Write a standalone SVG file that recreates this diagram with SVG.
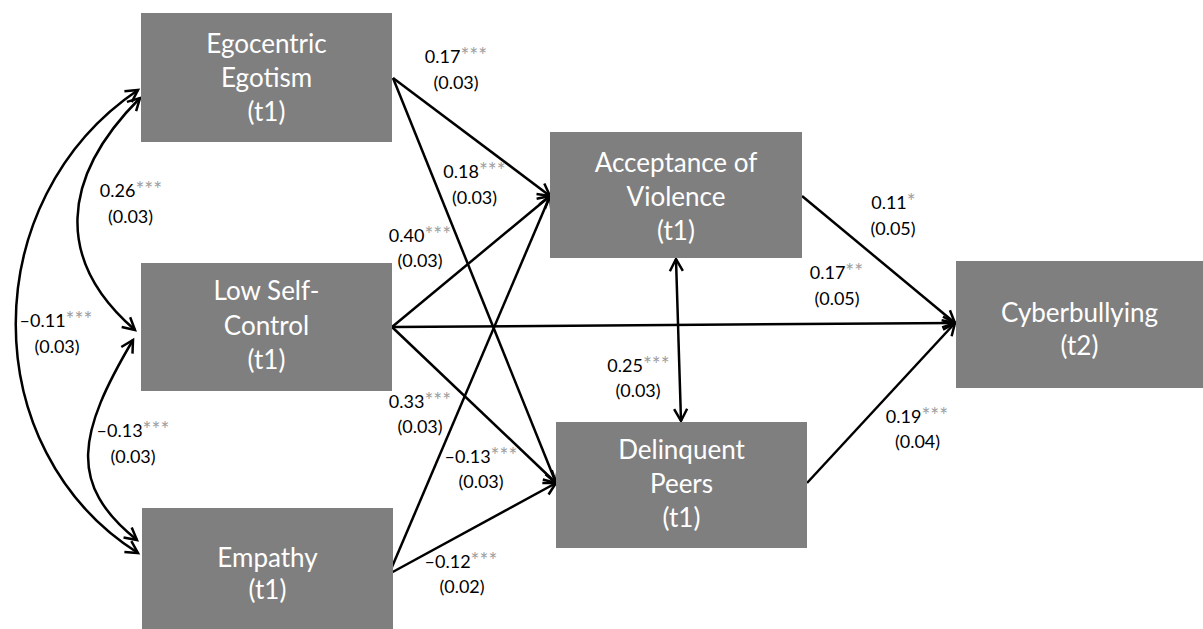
<svg xmlns="http://www.w3.org/2000/svg" width="1203" height="629" viewBox="0 0 1203 629">
<style>
.box{fill:#7f7f7f}
.nt{font-family:Lato,"Liberation Sans",sans-serif;font-size:26px;fill:#ffffff;text-anchor:middle}
.lb{font-family:Lato,"Liberation Sans",sans-serif;font-size:18px;fill:#000000;text-anchor:middle}
.st{fill:#a0a0a0;font-size:21px}
.c{fill:none;stroke:#000;stroke-width:2.5}
</style>
<defs>
<marker id="ah" markerUnits="userSpaceOnUse" markerWidth="18" markerHeight="18" viewBox="0 0 18 18" refX="15" refY="9" orient="auto-start-reverse">
<path d="M3,2.5 L15,9 L3,15.5" fill="none" stroke="#000" stroke-width="2.5"/>
</marker>
</defs>
<rect width="1203" height="629" fill="#ffffff"/>
<g id="connectors">
<path class="c" d="M138,90 C-25,200 -25,450 138,553" marker-start="url(#ah)" marker-end="url(#ah)"/>
<path class="c" d="M140,98 C60,178 55,261 135,330" marker-start="url(#ah)" marker-end="url(#ah)"/>
<path class="c" d="M133,340 C78,433 67,484 137,540" marker-start="url(#ah)" marker-end="url(#ah)"/>
<path class="c" d="M393,78 L550,196" marker-end="url(#ah)"/>
<path class="c" d="M393,78 L556,483" marker-end="url(#ah)"/>
<path class="c" d="M392,327 L550,196" marker-end="url(#ah)"/>
<path class="c" d="M392,327 L955,323" marker-end="url(#ah)"/>
<path class="c" d="M392,327 L556,483" marker-end="url(#ah)"/>
<path class="c" d="M389,574 L550,196" marker-end="url(#ah)"/>
<path class="c" d="M389,574 L556,483" marker-end="url(#ah)"/>
<path class="c" d="M802,196 L955,323" marker-end="url(#ah)"/>
<path class="c" d="M807,483 L955,323" marker-end="url(#ah)"/>
<path class="c" d="M676,259 L681,421" marker-start="url(#ah)" marker-end="url(#ah)"/>
</g>
<g id="egocentric">
<rect class="box" x="141" y="13" width="251" height="129"/>
<text class="nt" x="266.5" y="53">Egocentric</text>
<text class="nt" x="266.5" y="87">Egotism</text>
<text class="nt" x="266.5" y="121">(t1)</text>
</g>
<g id="lowselfcontrol">
<rect class="box" x="141" y="263" width="251" height="128"/>
<text class="nt" x="266.5" y="300">Low Self-</text>
<text class="nt" x="266.5" y="335">Control</text>
<text class="nt" x="266.5" y="369">(t1)</text>
</g>
<g id="empathy">
<rect class="box" x="142" y="508" width="251" height="130"/>
<text class="nt" x="267.5" y="567">Empathy</text>
<text class="nt" x="267.5" y="599">(t1)</text>
</g>
<g id="acceptance">
<rect class="box" x="550" y="132" width="252" height="126"/>
<text class="nt" x="676" y="172">Acceptance of</text>
<text class="nt" x="676" y="206">Violence</text>
<text class="nt" x="676" y="240">(t1)</text>
</g>
<g id="delinquent">
<rect class="box" x="556" y="422" width="251" height="126"/>
<text class="nt" x="681.5" y="459">Delinquent</text>
<text class="nt" x="681.5" y="493">Peers</text>
<text class="nt" x="681.5" y="527">(t1)</text>
</g>
<g id="cyberbullying">
<rect class="box" x="956" y="261" width="247" height="127"/>
<text class="nt" x="1079.5" y="322">Cyberbullying</text>
<text class="nt" x="1079.5" y="355">(t2)</text>
</g>
<g id="labels">
<text class="lb" x="456" y="63">0.17<tspan class="st">***</tspan></text>
<text class="lb" x="456" y="89">(0.03)</text>
<text class="lb" x="474.5" y="178">0.18<tspan class="st">***</tspan></text>
<text class="lb" x="474.5" y="204">(0.03)</text>
<text class="lb" x="420" y="242">0.40<tspan class="st">***</tspan></text>
<text class="lb" x="420" y="267">(0.03)</text>
<text class="lb" x="420" y="408">0.33<tspan class="st">***</tspan></text>
<text class="lb" x="420" y="433">(0.03)</text>
<text class="lb" x="481" y="463">–0.13<tspan class="st">***</tspan></text>
<text class="lb" x="481" y="488">(0.03)</text>
<text class="lb" x="461" y="568">–0.12<tspan class="st">***</tspan></text>
<text class="lb" x="462" y="593">(0.02)</text>
<text class="lb" x="638.5" y="372">0.25<tspan class="st">***</tspan></text>
<text class="lb" x="638" y="397">(0.03)</text>
<text class="lb" x="893.5" y="209">0.11<tspan class="st">*</tspan></text>
<text class="lb" x="893" y="235">(0.05)</text>
<text class="lb" x="836.5" y="279">0.17<tspan class="st">**</tspan></text>
<text class="lb" x="837" y="305">(0.05)</text>
<text class="lb" x="917" y="423">0.19<tspan class="st">***</tspan></text>
<text class="lb" x="917.5" y="448">(0.04)</text>
<text class="lb" x="131" y="197">0.26<tspan class="st">***</tspan></text>
<text class="lb" x="130.5" y="223">(0.03)</text>
<text class="lb" x="56" y="327">–0.11<tspan class="st">***</tspan></text>
<text class="lb" x="57" y="353">(0.03)</text>
<text class="lb" x="133" y="437">–0.13<tspan class="st">***</tspan></text>
<text class="lb" x="133" y="463">(0.03)</text>
</g>
</svg>
